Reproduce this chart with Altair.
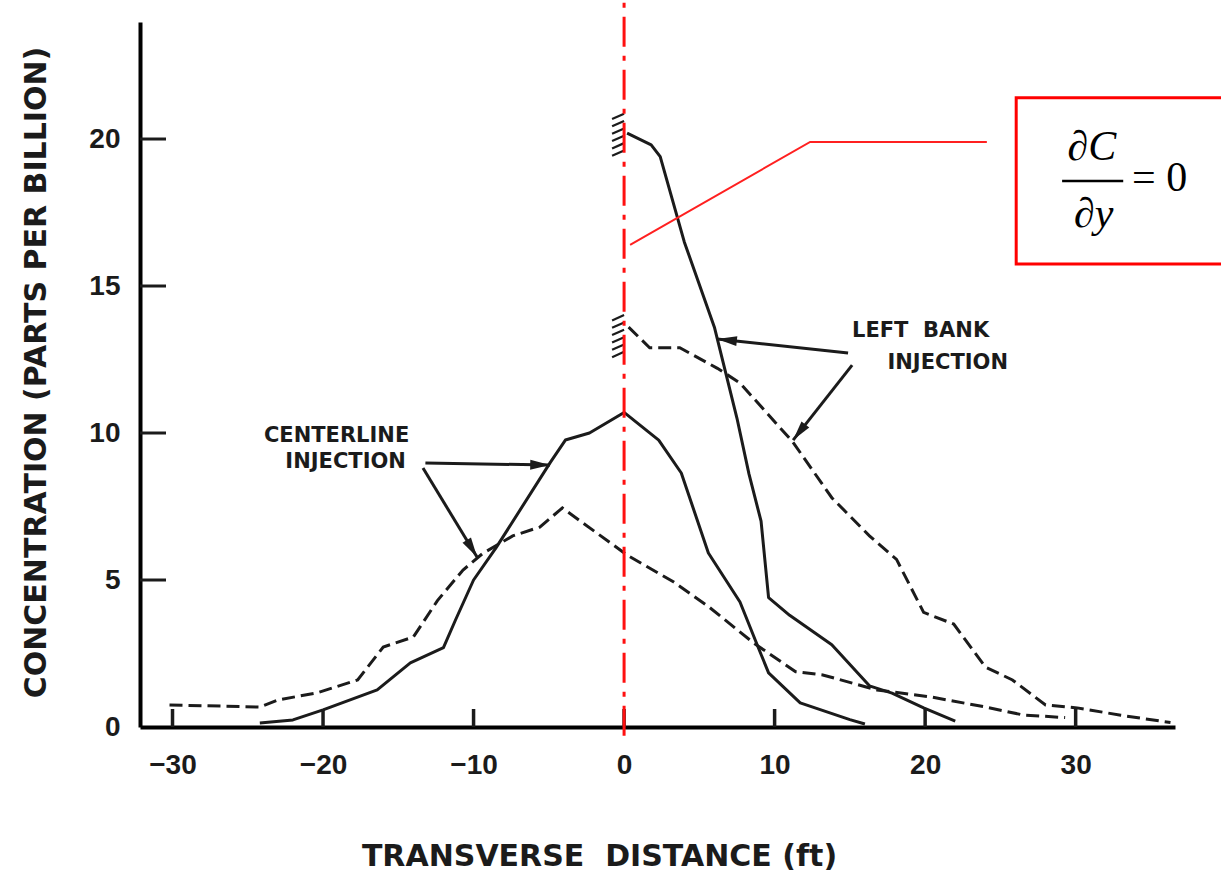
import math
import altair as alt
import pandas as pd

# ---------------- data ----------------
# Centerline injection, solid curve
cl_solid_x = [-24.2, -22.0, -20.0, -16.4, -14.2, -12.0, -11.2, -10.0, -8.5, -4.9, -3.9, -2.3, 0.0,
              2.3, 3.8, 5.6, 7.7, 8.9, 9.6, 11.7, 15.0, 16.0]
cl_solid_y = [0.14, 0.24, 0.58, 1.26, 2.18, 2.7, 3.64, 5.0, 6.1, 9.0, 9.76, 10.0, 10.7,
              9.76, 8.64, 5.92, 4.25, 2.72, 1.84, 0.82, 0.25, 0.1]
# Centerline injection, dashed curve
cl_dash_x = [-30.2, -24.2, -23.0, -20.4, -17.7, -16.0, -14.0, -12.4, -10.7, -9.4, -7.4, -5.6, -4.1,
             0.2, 3.3, 5.6, 8.6, 11.4, 13.2, 16.8, 20.4, 24.0, 26.5, 29.3]
cl_dash_y = [0.75, 0.68, 0.92, 1.16, 1.6, 2.72, 3.06, 4.3, 5.34, 5.9, 6.5, 6.8, 7.45,
             5.85, 4.93, 4.1, 2.86, 1.88, 1.77, 1.26, 1.02, 0.68, 0.41, 0.32]
# Left bank injection, solid curve
lb_solid_x = [0.2, 1.8, 2.4, 4.0, 6.0, 7.5, 8.3, 9.1, 9.6, 11.0, 13.8, 16.3, 17.8, 19.9, 22.0]
lb_solid_y = [20.2, 19.8, 19.4, 16.5, 13.6, 10.5, 8.6, 7.0, 4.4, 3.8, 2.8, 1.4, 1.15, 0.65, 0.2]
# Left bank injection, dashed curve
lb_dash_x = [0.3, 1.7, 3.7, 6.2, 7.7, 11.2, 13.8, 16.3, 18.1, 19.9, 21.9, 24.0, 25.8, 28.0, 30.1, 33.0, 36.3]
lb_dash_y = [13.6, 12.9, 12.9, 12.2, 11.7, 9.7, 7.8, 6.5, 5.7, 3.9, 3.5, 2.04, 1.6, 0.75, 0.65, 0.4, 0.15]

x_ticks = [-30, -20, -10, 0, 10, 20, 30]
y_ticks = [0, 5, 10, 15, 20]

# annotation labels
label_text = ["CENTERLINE", "INJECTION", "LEFT\u00a0 BANK", "INJECTION"]
label_x = [-19.1, -18.5, 19.7, 21.5]
label_y = [9.9, 9.0, 13.47, 12.38]

# arrows: start (text side) -> tip (curve side)
arrow_sx = [-13.2, -13.36, 14.88, 15.15]
arrow_sy = [8.98, 8.81, 12.72, 12.31]
arrow_tx = [-4.92, -9.77, 6.18, 11.23]
arrow_ty = [8.91, 5.78, 13.2, 9.76]

# hatch marks at the bank (x = 0)
hatch_y = [19.55, 19.8, 20.05, 20.3, 20.55, 20.8, 12.7, 12.95, 13.2, 13.45, 13.7, 13.95]

# red call-out: leader line and box, formula
leader_x = [0.4, 12.36, 24.1]
leader_y = [16.4, 19.9, 19.9]
box_x = [26.05, 41.0]
box_y = [15.75, 21.4]
bar_x = [29.1, 33.16]
bar_y = 18.57
formula_text = ["\u2202C", "\u2202y", "= 0"]
formula_x = [31.08, 31.2, 33.75]
formula_y = [19.29, 17.0, 18.23]

# ---------------- layout ----------------
XMIN, XMAX = -32.16, 36.6
YMIN, YMAX = 0.0, 23.98
W, H = 1035, 705
PXX = W / (XMAX - XMIN)
PXY = H / (YMAX - YMIN)

SANS = "DejaVu Sans"
LBL = "Liberation Sans"
SERIF = "Liberation Serif"
INK = "#1b1b1b"

xs = alt.Scale(domain=[XMIN, XMAX], nice=False, zero=False)
ys = alt.Scale(domain=[YMIN, YMAX], nice=False, zero=False)

xaxis = alt.Axis(values=x_ticks, ticks=False, tickSize=0, grid=False, domainColor="black",
                 domainWidth=4, labelFont=LBL, labelFontSize=28, labelFontWeight="bold",
                 labelColor=INK, labelPadding=24, labelFlush=False,
                 title="TRANSVERSE\u00a0 DISTANCE (ft)", titleFont=SANS, titleFontSize=30,
                 titleFontWeight="bold", titleColor=INK, titleX=459, titleY=138,
                 titleAlign="center", titleBaseline="alphabetic")
yaxis = alt.Axis(values=y_ticks, ticks=False, tickSize=0, grid=False, domainColor="black",
                 domainWidth=4, labelFont=LBL, labelFontSize=28, labelFontWeight="bold",
                 labelColor=INK, labelPadding=20, labelFlush=False,
                 title="CONCENTRATION (PARTS PER BILLION)", titleFont=SANS, titleFontSize=30,
                 titleFontWeight="bold", titleColor=INK, titleAngle=270, titleX=-95, titleY=350,
                 titleAlign="center", titleBaseline="alphabetic")


def X(f="x"):
    return alt.X(f"{f}:Q", scale=xs, axis=xaxis)


def Y(f="y"):
    return alt.Y(f"{f}:Q", scale=ys, axis=yaxis)


def curve_df(xv, yv, name):
    return pd.DataFrame({"x": xv, "y": yv, "series": name, "o": list(range(len(xv)))})


solid_df = pd.concat([curve_df(cl_solid_x, cl_solid_y, "cl"), curve_df(lb_solid_x, lb_solid_y, "lb")])
dash_df = pd.concat([curve_df(cl_dash_x, cl_dash_y, "cl"), curve_df(lb_dash_x, lb_dash_y, "lb")])

solid = alt.Chart(solid_df).mark_line(color=INK, strokeWidth=3, strokeJoin="round").encode(
    x=X(), y=Y(), detail="series:N", order="o:Q")
dashed = alt.Chart(dash_df).mark_line(color=INK, strokeWidth=3, strokeDash=[13, 6]).encode(
    x=X(), y=Y(), detail="series:N", order="o:Q")

# inward tick marks
xt_df = pd.DataFrame({"x": x_ticks, "y": 0.0, "y2": 18 / PXY})
xt = alt.Chart(xt_df).mark_rule(color=INK, strokeWidth=3.5).encode(x=X(), y=Y(), y2="y2:Q")
yt_df = pd.DataFrame({"x": XMIN, "x2": XMIN + 26 / PXX, "y": [v for v in y_ticks if v > 0]})
yt = alt.Chart(yt_df).mark_rule(color=INK, strokeWidth=3).encode(x=X(), x2="x2:Q", y=Y())

# hatch marks
h_df = pd.DataFrame({"x": -12 / PXX, "x2": 0.0, "y": [h - 0.12 for h in hatch_y], "y2": [h + 0.06 for h in hatch_y]})
hatch = alt.Chart(h_df).mark_rule(color=INK, strokeWidth=2.2).encode(x=X(), x2="x2:Q", y=Y(), y2="y2:Q")

# annotation texts
lab_df = pd.DataFrame({"x": label_x, "y": label_y, "t": label_text})
labels = alt.Chart(lab_df).mark_text(font=SANS, fontSize=21, fontWeight="bold", color=INK,
                                     align="center", baseline="middle").encode(x=X(), y=Y(), text="t:N")

# arrows
ang = [math.degrees(math.atan2((tx - sx) * PXX, (ty - sy) * PXY)) % 360
       for sx, sy, tx, ty in zip(arrow_sx, arrow_sy, arrow_tx, arrow_ty)]
arr_df = pd.DataFrame({"x": arrow_sx, "y": arrow_sy, "x2": arrow_tx, "y2": arrow_ty, "a": ang})
shafts = alt.Chart(arr_df).mark_rule(color=INK, strokeWidth=3).encode(x=X(), y=Y(), x2="x2:Q", y2="y2:Q")
heads = alt.Chart(arr_df).mark_point(shape="M0,0L1.1,4.4L-1.1,4.4Z", filled=True, size=81,
                                      color=INK, opacity=1).encode(
    x=X("x2"), y=Y("y2"), angle=alt.Angle("a:Q", scale=None))

# red dash-dot bank line
bank_df = pd.DataFrame({"x": [0.0], "y": [-0.3], "y2": [24.7]})
bank = alt.Chart(bank_df).mark_rule(color="#ff1010", strokeWidth=3, strokeDash=[30, 9, 5, 9]).encode(
    x=X(), y=Y(), y2="y2:Q")

# red call-out
lead_df = pd.DataFrame({"x": leader_x, "y": leader_y, "o": [0, 1, 2]})
leader = alt.Chart(lead_df).mark_line(color="#ff2020", strokeWidth=2).encode(x=X(), y=Y(), order="o:Q")
box_df = pd.DataFrame({"x": [box_x[0]], "x2": [box_x[1]], "y": [box_y[0]], "y2": [box_y[1]]})
box = alt.Chart(box_df).mark_rect(fill="white", stroke="#ff0000", strokeWidth=3).encode(
    x=X(), x2="x2:Q", y=Y(), y2="y2:Q")
bar_df = pd.DataFrame({"x": [bar_x[0]], "x2": [bar_x[1]], "y": [bar_y]})
bar = alt.Chart(bar_df).mark_rule(color="black", strokeWidth=2.5).encode(x=X(), x2="x2:Q", y=Y())
f_df = pd.DataFrame({"x": formula_x, "y": formula_y, "t": formula_text})
formula_frac = alt.Chart(f_df.iloc[:2]).mark_text(font=SERIF, fontSize=42, fontStyle="italic",
                                                  color="black", align="center",
                                                  baseline="alphabetic").encode(x=X(), y=Y(), text="t:N")
formula_eq = alt.Chart(f_df.iloc[2:]).mark_text(font=SERIF, fontSize=42, color="black", align="left",
                                                baseline="alphabetic").encode(x=X(), y=Y(), text="t:N")

chart = alt.layer(
    solid, dashed, xt, yt, hatch, shafts, heads, labels, leader, box, bar, formula_frac, formula_eq, bank
).properties(
    width=W, height=H,
    padding={"left": 140, "top": 22, "right": 46, "bottom": 147},
    autosize=alt.AutoSizeParams(type="none"),
    background="white",
).configure_view(stroke=None)

chart.save("out.html", embed_options={"renderer": "svg", "actions": False})
